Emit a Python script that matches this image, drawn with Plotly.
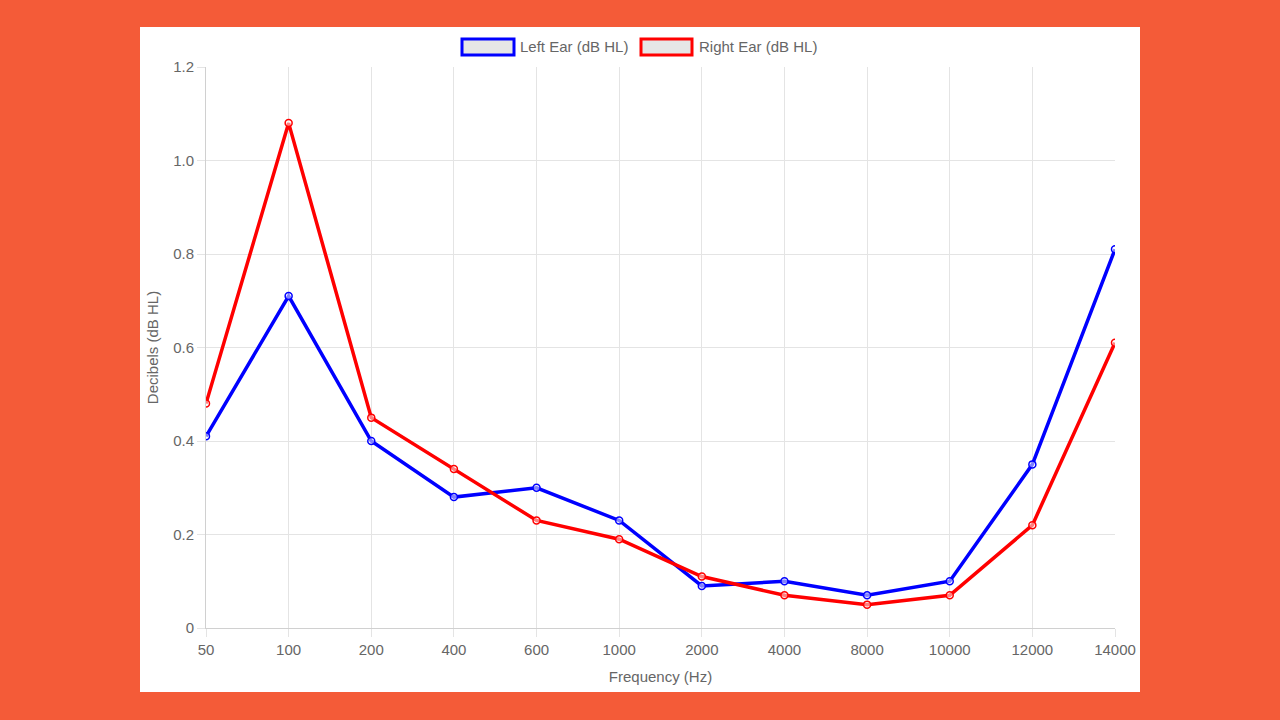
import plotly.graph_objects as go

frequencies = ["50", "100", "200", "400", "600", "1000", "2000", "4000", "8000", "10000", "12000", "14000"]
left_ear = [0.41, 0.71, 0.40, 0.28, 0.30, 0.23, 0.09, 0.10, 0.07, 0.10, 0.35, 0.81]
right_ear = [0.48, 1.08, 0.45, 0.34, 0.23, 0.19, 0.11, 0.07, 0.05, 0.07, 0.22, 0.61]
series_names = ["Left Ear (dB HL)", "Right Ear (dB HL)"]
series_colors = ["#0000ff", "#ff0000"]

W, H = 1280, 720
L, R, T, B = 206, 1115, 67, 628  # plot area in pixels


def px(x):
    return (x - L) / (R - L)


def py(y):
    return (B - y) / (B - T)


FONT = "Liberation Sans, Arial, Helvetica, sans-serif"
GRID = "#e4e4e4"
TXT = "#666666"

fig = go.Figure()
for name, vals, col in zip(series_names, [left_ear, right_ear], series_colors):
    fig.add_trace(go.Scatter(
        x=frequencies, y=vals, name=name, mode="lines+markers",
        line=dict(color=col, width=3.5),
        marker=dict(symbol="circle", size=7, color="rgba(255,255,255,0.5)",
                    line=dict(color=col, width=1.5)),
        showlegend=False,
    ))

shapes = [
    dict(type="rect", xref="paper", yref="paper", layer="below",
         x0=px(140), x1=px(1140), y0=py(692), y1=py(27),
         fillcolor="white", line=dict(width=0)),
]
annotations = []
legend_items = [(462, 514, 518), (641, 692, 697)]
for (bx0, bx1, tx), name, col in zip(legend_items, series_names, series_colors):
    shapes.append(dict(type="rect", xref="paper", yref="paper",
                       x0=px(bx0), x1=px(bx1), y0=py(55), y1=py(39),
                       fillcolor="#e6e6e6", line=dict(color=col, width=3)))
    annotations.append(dict(xref="paper", yref="paper", x=px(tx), y=py(46),
                            xanchor="left", yanchor="middle", showarrow=False,
                            text=name, font=dict(family=FONT, size=15, color=TXT)))

fig.update_layout(
    width=W, height=H,
    margin=dict(l=L, r=W - R, t=T, b=H - B, pad=0),
    paper_bgcolor="#f45b38",
    plot_bgcolor="white",
    font=dict(family=FONT, size=15, color=TXT),
    shapes=shapes,
    annotations=annotations,
    showlegend=False,
)
fig.update_xaxes(
    type="category", range=[0, len(frequencies) - 1],
    showgrid=True, gridcolor=GRID, gridwidth=1,
    ticks="outside", ticklen=8, tickcolor=GRID,
    showline=True, linecolor="#d0d0d0", linewidth=1,
    tickfont=dict(size=15, color=TXT),
    title=dict(text="Frequency (Hz)", font=dict(size=15, color=TXT), standoff=14),
    zeroline=False,
)
fig.update_yaxes(
    range=[0, 1.2], tickvals=[0, 0.2, 0.4, 0.6, 0.8, 1.0, 1.2],
    ticktext=["0", "0.2", "0.4", "0.6", "0.8", "1.0", "1.2"],
    showgrid=True, gridcolor=GRID, gridwidth=1,
    ticks="outside", ticklen=8, tickcolor=GRID,
    showline=True, linecolor="#d0d0d0", linewidth=1,
    tickfont=dict(size=15, color=TXT),
    title=dict(text="Decibels (dB HL)", font=dict(size=15, color=TXT), standoff=10),
    zeroline=False,
)

fig.write_html("out.html", config={"displayModeBar": False},
               post_script="document.body.style.margin='0';")
